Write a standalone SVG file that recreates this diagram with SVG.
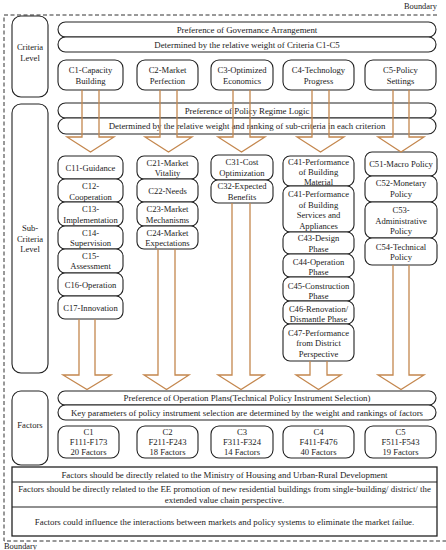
<svg xmlns="http://www.w3.org/2000/svg" width="446" height="550" viewBox="0 0 446 550">
<style>
text{font-family:"Liberation Serif","Times New Roman",serif;font-size:8.6px;fill:#222;text-anchor:middle}
.w{font-size:8.85px}
.b{fill:#fff;stroke:#222;stroke-width:1.1}
.bd{fill:none;stroke:#333;stroke-width:1;stroke-dasharray:4 2.5}
.ar{fill:none;stroke:#c4874e;stroke-width:1.3;stroke-linejoin:miter}
.s{font-size:8.4px;text-anchor:start}
</style>
<rect width="446" height="550" fill="#fff"/>
<g id="boundary">
<path class="bd" d="M437 15H4V541H446"/>
<text class="s" x="437" y="9" style="text-anchor:end">Boundary</text>
<text class="s" x="4" y="549">Boundary</text>
</g>
<g id="level-criteria"><rect class="b" x="12" y="16" width="36" height="81" rx="9"/><text x="30" y="50">Criteria</text><text x="30" y="61">Level</text></g>
<g id="level-sub"><rect class="b" x="12" y="104" width="36" height="269" rx="9"/><text x="30" y="231">Sub-</text><text x="30" y="241.5">Criteria</text><text x="30" y="252">Level</text></g>
<g id="level-factors"><rect class="b" x="12" y="391" width="36" height="74" rx="9"/><text x="30" y="428">Factors</text></g>

<g id="banner1"><rect class="b" x="58" y="22" width="378" height="15" rx="7.5"/><text class="w" x="247" y="32.5">Preference of Governance Arrangement</text></g>
<g id="banner2"><rect class="b" x="58" y="37" width="378" height="15" rx="7.5"/><text class="w" x="247" y="47.5">Determined by the relative weight of Criteria C1-C5</text></g>

<g id="C1"><rect class="b" x="58" y="60" width="65" height="30" rx="8"/><text x="90.5" y="73">C1-Capacity</text><text x="90.5" y="83.5">Building</text></g>
<g id="C2"><rect class="b" x="137" y="60" width="61" height="30" rx="8"/><text x="167.5" y="73">C2-Market</text><text x="167.5" y="83.5">Perfection</text></g>
<g id="C3"><rect class="b" x="211" y="60" width="62" height="30" rx="8"/><text x="242" y="73">C3-Optimized</text><text x="242" y="83.5">Economics</text></g>
<g id="C4"><rect class="b" x="283" y="60" width="71" height="30" rx="8"/><text x="318.5" y="73">C4-Technology</text><text x="318.5" y="83.5">Progress</text></g>
<g id="C5"><rect class="b" x="365" y="60" width="71" height="30" rx="8"/><text x="400.5" y="73">C5-Policy</text><text x="400.5" y="83.5">Settings</text></g>

<g id="banner3"><rect class="b" x="58" y="103" width="378" height="15" rx="7.5"/><text class="w" x="247" y="113.5">Preference of Policy Regime Logic</text></g>
<g id="banner4"><rect class="b" x="58" y="118" width="378" height="16" rx="8"/><text class="w" x="247" y="129">Determined by the relative weight and ranking of sub-criteria in each criterion</text></g>

<g id="C11"><rect class="b" x="58" y="156" width="65" height="23" rx="7"/><text x="90.5" y="170.5">C11-Guidance</text></g>
<g id="C12"><rect class="b" x="58" y="179" width="65" height="23" rx="7"/><text x="90.5" y="189">C12-</text><text x="90.5" y="199.5">Cooperation</text></g>
<g id="C13"><rect class="b" x="58" y="202" width="65" height="24" rx="7"/><text x="90.5" y="212">C13-</text><text x="90.5" y="222.5">Implementation</text></g>
<g id="C14"><rect class="b" x="58" y="226" width="65" height="23" rx="7"/><text x="90.5" y="235.5">C14-</text><text x="90.5" y="246">Supervision</text></g>
<g id="C15"><rect class="b" x="58" y="249" width="65" height="24" rx="7"/><text x="90.5" y="258.5">C15-</text><text x="90.5" y="269">Assessment</text></g>
<g id="C16"><rect class="b" x="58" y="273" width="65" height="23" rx="7"/><text x="90.5" y="287.5">C16-Operation</text></g>
<g id="C17"><rect class="b" x="58" y="296" width="65" height="23" rx="7"/><text x="90.5" y="310.5">C17-Innovation</text></g>

<g id="C21"><rect class="b" x="137" y="156" width="61" height="23" rx="7"/><text x="167.5" y="165.5">C21-Market</text><text x="167.5" y="176">Vitality</text></g>
<g id="C22"><rect class="b" x="137" y="179" width="61" height="23" rx="7"/><text x="167.5" y="193.5">C22-Needs</text></g>
<g id="C23"><rect class="b" x="137" y="202" width="61" height="24" rx="7"/><text x="167.5" y="212">C23-Market</text><text x="167.5" y="222.5">Mechanisms</text></g>
<g id="C24"><rect class="b" x="137" y="226" width="61" height="23" rx="7"/><text x="167.5" y="235.5">C24-Market</text><text x="167.5" y="246">Expectations</text></g>

<g id="C31"><rect class="b" x="211" y="155" width="62" height="25" rx="7"/><text x="242" y="165">C31-Cost</text><text x="242" y="175.5">Optimization</text></g>
<g id="C32"><rect class="b" x="211" y="180" width="62" height="23" rx="7"/><text x="242" y="189">C32-Expected</text><text x="242" y="199.5">Benefits</text></g>

<g id="C41a"><rect class="b" x="283" y="156" width="71" height="30" rx="7"/><text x="318.5" y="164.5">C41-Performance</text><text x="318.5" y="174.5">of Building</text><text x="318.5" y="184.5">Material</text></g>
<g id="C41b"><rect class="b" x="283" y="186" width="71" height="46" rx="7"/><text x="318.5" y="197">C41-Performance</text><text x="318.5" y="207.5">of Building</text><text x="318.5" y="218">Services and</text><text x="318.5" y="228.5">Appliances</text></g>
<g id="C43"><rect class="b" x="283" y="232" width="71" height="22" rx="7"/><text x="318.5" y="241">C43-Design</text><text x="318.5" y="251.5">Phase</text></g>
<g id="C44"><rect class="b" x="283" y="254" width="71" height="23" rx="7"/><text x="318.5" y="265">C44-Operation</text><text x="318.5" y="275">Phase</text></g>
<g id="C45"><rect class="b" x="283" y="277" width="71" height="24" rx="7"/><text x="318.5" y="288.5">C45-Construction</text><text x="318.5" y="298.5">Phase</text></g>
<g id="C46"><rect class="b" x="283" y="301" width="71" height="23" rx="7"/><text x="318.5" y="311.5">C46-Renovation/</text><text x="318.5" y="321.5">Dismantle Phase</text></g>
<g id="C47"><rect class="b" x="283" y="324" width="71" height="37" rx="7"/><text x="318.5" y="335.5">C47-Performance</text><text x="318.5" y="346">from District</text><text x="318.5" y="356.5">Perspective</text></g>

<g id="C51"><rect class="b" x="365" y="152" width="72" height="24" rx="7"/><text x="401" y="166.5">C51-Macro Policy</text></g>
<g id="C52"><rect class="b" x="365" y="176" width="72" height="26" rx="7"/><text x="401" y="186">C52-Monetary</text><text x="401" y="196.5">Policy</text></g>
<g id="C53"><rect class="b" x="365" y="202" width="72" height="36" rx="7"/><text x="401" y="213">C53-</text><text x="401" y="223.5">Administrative</text><text x="401" y="234">Policy</text></g>
<g id="C54"><rect class="b" x="365" y="238" width="72" height="27" rx="7"/><text x="401" y="249.5">C54-Technical</text><text x="401" y="260">Policy</text></g>

<g id="banner5"><rect class="b" x="58" y="391" width="378" height="14" rx="7"/><text class="w" x="247" y="401">Preference of Operation Plans(Technical Policy Instrument Selection)</text></g>
<g id="banner6"><rect class="b" x="58" y="405" width="378" height="15" rx="7.5"/><text class="w" x="247" y="415.5">Key parameters of policy instrument selection are determined by the weight and rankings of factors</text></g>

<g id="F1"><rect class="b" x="58" y="426" width="61" height="32" rx="8"/><text x="88.5" y="435">C1</text><text x="88.5" y="445">F111-F173</text><text x="88.5" y="455">20 Factors</text></g>
<g id="F2"><rect class="b" x="137" y="426" width="61" height="32" rx="8"/><text x="167.5" y="435">C2</text><text x="167.5" y="445">F211-F243</text><text x="167.5" y="455">18 Factors</text></g>
<g id="F3"><rect class="b" x="211" y="426" width="62" height="32" rx="8"/><text x="242" y="435">C3</text><text x="242" y="445">F311-F324</text><text x="242" y="455">14 Factors</text></g>
<g id="F4"><rect class="b" x="283" y="426" width="71" height="32" rx="8"/><text x="318.5" y="435">C4</text><text x="318.5" y="445">F411-F476</text><text x="318.5" y="455">40 Factors</text></g>
<g id="F5"><rect class="b" x="365" y="426" width="71" height="32" rx="8"/><text x="400.5" y="435">C5</text><text x="400.5" y="445">F511-F543</text><text x="400.5" y="455">19 Factors</text></g>

<g id="rules">
<rect class="b" x="12" y="467" width="425" height="69" style="stroke-width:1.3"/>
<path d="M12 482H437M12 507H437" stroke="#222" stroke-width="1.1"/>
<text class="w" x="224.5" y="478">Factors should be directly related to the Ministry of Housing and Urban-Rural Development</text>
<text class="w" x="224.5" y="492">Factors should be directly related to the EE promotion of new residential buildings from single-building/ district/ the</text>
<text class="w" x="224.5" y="502.5">extended value chain perspective.</text>
<text class="w" x="224.5" y="525">Factors could influence the interactions between markets and policy systems to eliminate the market failue.</text>
</g>

<g id="connectors">
<polyline class="ar" points="82,90 82,137 67,137 90.5,152 114,137 99,137 99,90"/>
<polyline class="ar" points="160,90 160,137 145,137 168.5,152 192,137 177,137 177,90"/>
<polyline class="ar" points="233,90 233,137 218,137 241.5,152 265,137 250,137 250,90"/>
<polyline class="ar" points="312,90 312,137 297,137 320.5,152 344,137 329,137 329,90"/>
<polyline class="ar" points="393,90 393,137 378,137 401,152 424,137 409,137 409,90"/>
<polyline class="ar" points="79,319 79,375 63,375 87,389.5 111,375 95,375 95,319"/>
<polyline class="ar" points="158,249 158,375 144,375 166.5,389.5 189,375 175,375 175,249"/>
<polyline class="ar" points="232,203 232,375 218,375 241,389.5 264,375 250,375 250,203"/>
<polyline class="ar" points="310,361 310,375 296,375 318.5,389.5 341,375 327,375 327,361"/>
<polyline class="ar" points="393,265 393,375 378,375 401,389.5 424,375 409,375 409,265"/>
</g>
</svg>
